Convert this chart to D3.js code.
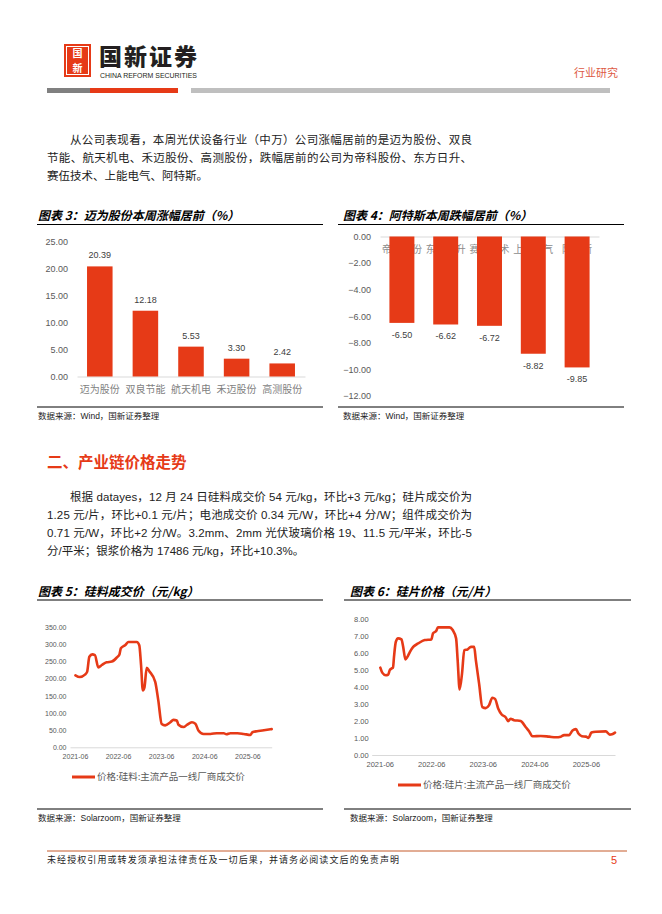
<!DOCTYPE html>
<html>
<head>
<meta charset="utf-8">
<script src="https://cdn.jsdelivr.net/npm/d3@7"></script>
<style>
  body { margin: 0; background: #fff; }
  svg { display: block; }
  text { font-family: "Liberation Sans", "Noto Sans CJK SC", sans-serif; }
</style>
</head>
<body>
<div id="page"></div>
<script>
// chart 3: top gainers
var gainCats = ["迈为股份", "双良节能", "航天机电", "禾迈股份", "高测股份"];
var gainVals = [20.39, 12.18, 5.53, 3.30, 2.42];
var gainTicks = [0, 5, 10, 15, 20, 25];

// chart 4: top losers
var loseCats = ["帝科股份", "东方日升", "赛伍技术", "上能电气", "阿特斯"];
var loseVals = [-6.50, -6.62, -6.72, -8.82, -9.85];
var loseTicks = [0, -2, -4, -6, -8, -10, -12];

// chart 5: polysilicon price (yuan/kg)
var siliconDates = ["2021-06-05","2021-07-12","2021-08-25","2021-09-12","2021-10-01","2021-10-26","2021-11-17","2021-12-16",
  "2022-01-15","2022-02-24","2022-04-09","2022-05-22","2022-06-13","2022-06-25","2022-07-31","2022-08-29","2022-11-06",
  "2022-11-28","2022-12-13","2022-12-28","2023-01-11","2023-01-30","2023-02-21","2023-04-12","2023-05-08","2023-06-06",
  "2023-07-05","2023-08-18","2023-09-13","2023-10-12","2023-10-26","2023-12-09","2024-01-04","2024-02-17","2024-03-17",
  "2024-04-12","2024-05-26","2024-07-23","2024-09-16","2024-11-13","2024-12-05","2025-01-08","2025-03-08","2025-05-01",
  "2025-06-28","2025-07-13","2025-08-22","2025-10-05","2025-12-24"];
var siliconPrices = [210, 205, 212, 220, 264, 271, 269, 233,
  240, 248, 250, 262, 271, 289, 298, 307, 307,
  298, 240, 166, 175, 232, 222, 191, 137, 68,
  64, 73, 80, 78, 66, 59, 65, 73, 69,
  49, 39, 39, 41, 41, 38, 41, 41, 39,
  36, 44, 47, 49, 53];
var siliconTicks = [0, 50, 100, 150, 200, 250, 300, 350];

// chart 6: wafer price (yuan/piece)
var waferDates = ["2021-06-05","2021-06-20","2021-07-13","2021-07-30","2021-08-11","2021-08-22","2021-09-03","2021-09-10",
  "2021-09-23","2021-10-09","2021-11-02","2021-11-14","2021-11-30","2021-12-14","2022-01-01","2022-01-24","2022-02-28",
  "2022-04-16","2022-06-02","2022-06-13","2022-07-07","2022-07-18","2022-10-08","2022-10-31","2022-11-24","2022-12-05",
  "2022-12-19","2023-01-05","2023-01-21","2023-02-13","2023-03-09","2023-04-01","2023-04-13","2023-05-06","2023-05-29",
  "2023-06-22","2023-07-15","2023-08-08","2023-08-27","2023-09-19","2023-10-13","2023-11-10","2023-11-28","2023-12-15",
  "2024-01-08","2024-02-25","2024-04-01","2024-04-24","2024-05-18","2024-07-16","2024-09-13","2024-10-30","2024-12-05",
  "2024-12-28","2025-02-02","2025-02-26","2025-03-22","2025-04-09","2025-05-03","2025-06-01","2025-06-19","2025-07-10",
  "2025-08-10","2025-10-20","2025-11-17","2025-12-03","2025-12-24"];
var waferPrices = [5.14, 4.83, 4.69, 4.72, 4.99, 5.08, 5.14, 5.77,
  6.66, 6.86, 6.80, 6.36, 5.62, 5.77, 6.07, 6.36, 6.56,
  6.76, 6.80, 7.15, 7.31, 7.51, 7.51, 7.35, 6.86, 5.58,
  3.86, 4.79, 6.17, 6.21, 6.36, 6.36, 5.58, 4.20, 2.82,
  2.76, 2.92, 3.37, 3.30, 2.72, 2.38, 2.22, 1.99, 2.13,
  2.05, 2.00, 1.63, 1.40, 1.10, 1.12, 1.08, 1.04, 1.08,
  1.17, 1.17, 1.44, 1.52, 1.26, 1.10, 1.08, 1.00, 1.32,
  1.37, 1.39, 1.20, 1.22, 1.32];
var waferTicks = [0, 1, 2, 3, 4, 5, 6, 7, 8];

var yearTicks = ["2021-06-01", "2022-06-01", "2023-06-01", "2024-06-01", "2025-06-01"];

var RED = "#e63a17";
var GREY = "#595959";
var CJK = "\"Noto Sans CJK SC\", sans-serif";

var parse = d3.timeParse("%Y-%m-%d");

var svg = d3.select("#page").append("svg")
  .attr("width", 662)
  .attr("height", 914);

svg.append("rect").attr("width", 662).attr("height", 914).attr("fill", "#fff");

// ---------- page header ----------
svg.append("rect").attr("x", 64).attr("y", 44).attr("width", 27).attr("height", 33).attr("fill", RED);
svg.append("rect").attr("x", 66.5).attr("y", 46.5).attr("width", 22).attr("height", 28)
  .attr("fill", "none").attr("stroke", "#fff").attr("stroke-width", 1);
svg.append("text").attr("x", 77.5).attr("y", 57).attr("text-anchor", "middle")
  .style("font-family", CJK).style("font-size", "10px").style("font-weight", "bold").attr("fill", "#fff").text("国");
svg.append("text").attr("x", 77.5).attr("y", 72).attr("text-anchor", "middle")
  .style("font-family", CJK).style("font-size", "10px").style("font-weight", "bold").attr("fill", "#fff").text("新");
svg.append("text").attr("x", 99).attr("y", 65).attr("textLength", 98)
  .style("font-family", CJK).style("font-size", "23px").style("font-weight", "900").attr("fill", "#231f20").text("国新证券");
svg.append("text").attr("x", 100).attr("y", 78).attr("textLength", 97).attr("lengthAdjust", "spacingAndGlyphs")
  .style("font-size", "7px").attr("fill", "#231f20").text("CHINA REFORM SECURITIES");
svg.append("text").attr("x", 618).attr("y", 77).attr("text-anchor", "end")
  .style("font-family", CJK).style("font-size", "11px").attr("fill", "#dd5a45").text("行业研究");

svg.append("rect").attr("x", 47).attr("y", 88).attr("width", 43).attr("height", 5).attr("fill", "#808080");
svg.append("rect").attr("x", 90).attr("y", 88).attr("width", 88).attr("height", 5).attr("fill", RED);
svg.append("rect").attr("x", 191).attr("y", 88).attr("width", 419).attr("height", 5).attr("fill", "#bfbfbf");

// ---------- body text ----------
function textLine(x, y, str, width) {
  var t = svg.append("text")
    .attr("x", x).attr("y", y)
    .style("font-size", "11.5px")
    .attr("fill", "#222")
    .text(str);
  if (width) t.attr("textLength", width).attr("lengthAdjust", "spacing");
  return t;
}

textLine(70, 144, "从公司表现看，本周光伏设备行业（中万）公司涨幅居前的是迈为股份、双良", 402);
textLine(47, 162, "节能、航天机电、禾迈股份、高测股份，跌幅居前的公司为帝科股份、东方日升、", 425);
textLine(47, 180, "赛伍技术、上能电气、阿特斯。");

svg.append("text").attr("x", 47).attr("y", 468)
  .style("font-family", CJK).style("font-size", "15.5px").style("font-weight", "bold")
  .attr("fill", RED).text("二、产业链价格走势");

textLine(70, 501, "根据 datayes，12 月 24 日硅料成交价 54 元/kg，环比+3 元/kg；硅片成交价为", 402);
textLine(47, 519, "1.25 元/片，环比+0.1 元/片；电池成交价 0.34 元/W，环比+4 分/W；组件成交价为", 425);
textLine(47, 537, "0.71 元/W，环比+2 分/W。3.2mm、2mm 光伏玻璃价格 19、11.5 元/平米，环比-5", 425);
textLine(47, 555, "分/平米；银浆价格为 17486 元/kg，环比+10.3%。");

// ---------- chart frame: title + rules + source ----------
function frame(x0, x1, titleX, titleY, ruleY, title, srcY, source) {
  svg.append("text").attr("x", titleX).attr("y", titleY)
    .style("font-family", CJK).style("font-size", "12px").style("font-weight", "bold")
    .style("font-style", "italic").attr("fill", "#000").text(title);
  svg.append("line").attr("x1", x0).attr("x2", x1).attr("y1", ruleY).attr("y2", ruleY)
    .attr("stroke", "#000").attr("stroke-width", 1.2);
  svg.append("line").attr("x1", x0).attr("x2", x1).attr("y1", srcY).attr("y2", srcY)
    .attr("stroke", "#000").attr("stroke-width", 1);
  svg.append("text").attr("x", titleX).attr("y", srcY + 12)
    .style("font-size", "8.5px").attr("fill", "#222").text(source);
}

frame(37, 323, 38, 220, 224.5, "图表 3：迈为股份本周涨幅居前（%）", 407, "数据来源：Wind，国新证券整理");
frame(338, 624, 343, 220, 224.5, "图表 4：阿特斯本周跌幅居前（%）", 407, "数据来源：Wind，国新证券整理");
frame(37, 323, 38, 596, 600, "图表 5：硅料成交价（元/kg）", 809, "数据来源：Solarzoom，国新证券整理");
frame(344, 631, 350, 596, 600, "图表 6：硅片价格（元/片）", 809, "数据来源：Solarzoom，国新证券整理");

function styleAxis(g, size, color) {
  g.selectAll("text").style("font-size", size).attr("fill", color);
  g.selectAll(".tick line").remove();
}

// ---------- chart 3 ----------
var x3 = d3.scaleBand().domain(gainCats).range([77, 305]).paddingInner(0.44).paddingOuter(0.22);
var y3 = d3.scaleLinear().domain([0, 25]).range([376.5, 241.5]);

var g3y = svg.append("g").attr("transform", "translate(77,0)")
  .call(d3.axisLeft(y3).tickValues(gainTicks).tickSize(0).tickPadding(9).tickFormat(d3.format(".2f")));
g3y.select(".domain").remove();
styleAxis(g3y, "9px", GREY);

var g3x = svg.append("g").attr("transform", "translate(0," + y3(0) + ")")
  .call(d3.axisBottom(x3).tickSize(0).tickPadding(9).tickSizeOuter(0));
g3x.select(".domain").attr("stroke", "#d9d9d9");
styleAxis(g3x, "10px", "#7f7f7f");
g3x.selectAll("text").style("font-family", CJK);

svg.selectAll(".bar3").data(gainVals).enter().append("rect")
  .attr("class", "bar3")
  .attr("x", function(d, i) { return x3(gainCats[i]); })
  .attr("y", function(d) { return y3(d); })
  .attr("width", x3.bandwidth())
  .attr("height", function(d) { return y3(0) - y3(d); })
  .attr("fill", RED);

svg.selectAll(".lab3").data(gainVals).enter().append("text")
  .attr("class", "lab3")
  .attr("x", function(d, i) { return x3(gainCats[i]) + x3.bandwidth() / 2; })
  .attr("y", function(d) { return y3(d) - 8; })
  .attr("text-anchor", "middle")
  .style("font-size", "9px").attr("fill", "#404040")
  .text(function(d) { return d.toFixed(2); });

// ---------- chart 4 ----------
var x4 = d3.scaleBand().domain(loseCats).range([380, 599]).paddingInner(0.43).paddingOuter(0.215);
var y4 = d3.scaleLinear().domain([-12, 0]).range([396, 236.5]);

var g4y = svg.append("g").attr("transform", "translate(380,0)")
  .call(d3.axisLeft(y4).tickValues(loseTicks).tickSize(0).tickPadding(9).tickFormat(d3.format(".2f")));
g4y.select(".domain").remove();
styleAxis(g4y, "9px", GREY);

// category labels sit under the bars, as in the source chart
var g4x = svg.append("g").attr("transform", "translate(0," + y4(0) + ")")
  .call(d3.axisBottom(x4).tickSize(0).tickPadding(9).tickSizeOuter(0));
g4x.select(".domain").attr("stroke", "#d9d9d9");
styleAxis(g4x, "10px", "#8c8c8c");
g4x.selectAll("text").style("font-family", CJK);

svg.selectAll(".bar4").data(loseVals).enter().append("rect")
  .attr("class", "bar4")
  .attr("x", function(d, i) { return x4(loseCats[i]); })
  .attr("y", y4(0))
  .attr("width", x4.bandwidth())
  .attr("height", function(d) { return y4(d) - y4(0); })
  .attr("fill", RED);

svg.selectAll(".lab4").data(loseVals).enter().append("text")
  .attr("class", "lab4")
  .attr("x", function(d, i) { return x4(loseCats[i]) + x4.bandwidth() / 2; })
  .attr("y", function(d) { return y4(d) + 15; })
  .attr("text-anchor", "middle")
  .style("font-size", "9px").attr("fill", "#404040")
  .text(function(d) { return d.toFixed(2); });

// ---------- line charts ----------
function lineChart(opt) {
  var data = opt.dates.map(function(d, i) { return { date: parse(d), value: opt.values[i] }; });

  var x = d3.scaleTime().domain([parse(opt.start), parse(opt.end)]).range([opt.left, opt.right]);
  var y = d3.scaleLinear().domain([0, opt.max]).range([opt.bottom, opt.top]);

  var gy = svg.append("g").attr("transform", "translate(" + opt.left + ",0)")
    .call(d3.axisLeft(y).tickValues(opt.ticks).tickSize(0).tickPadding(opt.padY).tickFormat(d3.format(".2f")));
  gy.select(".domain").remove();
  styleAxis(gy, opt.font, GREY);

  var gx = svg.append("g").attr("transform", "translate(0," + opt.bottom + ")")
    .call(d3.axisBottom(x).tickValues(yearTicks.map(parse)).tickSize(0).tickSizeOuter(0)
      .tickPadding(opt.padX).tickFormat(d3.timeFormat("%Y-%m")));
  gx.select(".domain").attr("stroke", "#d9d9d9");
  styleAxis(gx, opt.font, GREY);

  var line = d3.line()
    .x(function(d) { return x(d.date); })
    .y(function(d) { return y(d.value); })
    .curve(d3.curveMonotoneX);

  svg.append("path").datum(data)
    .attr("d", line)
    .attr("fill", "none")
    .attr("stroke", RED)
    .attr("stroke-width", 2.6)
    .attr("stroke-linejoin", "round")
    .attr("stroke-linecap", "round");

  // legend
  svg.append("line").attr("x1", opt.legX).attr("x2", opt.legX + 23)
    .attr("y1", opt.legY).attr("y2", opt.legY)
    .attr("stroke", RED).attr("stroke-width", 3);
  svg.append("text").attr("x", opt.legX + 25).attr("y", opt.legY).attr("dy", "0.35em")
    .style("font-family", CJK).style("font-size", "9.5px").attr("fill", GREY).text(opt.legend);
}

lineChart({
  dates: siliconDates, values: siliconPrices, ticks: siliconTicks, max: 350,
  start: "2021-04-20", end: "2025-12-24",
  left: 70, right: 271.7, top: 627.3, bottom: 747.3,
  padY: 3.5, padX: 6.5, font: "7px",
  legX: 72, legY: 777, legend: "价格:硅料:主流产品一线厂商成交价"
});

lineChart({
  dates: waferDates, values: waferPrices, ticks: waferTicks, max: 8,
  start: "2021-04-05", end: "2025-12-24",
  left: 371.7, right: 615, top: 619, bottom: 755,
  padY: 3, padX: 7, font: "7.5px",
  legX: 398, legY: 785, legend: "价格:硅片:主流产品一线厂商成交价"
});

// ---------- footer ----------
svg.append("line").attr("x1", 47).attr("x2", 627).attr("y1", 851).attr("y2", 851)
  .attr("stroke", "#c55a2b").attr("stroke-width", 1);
svg.append("text").attr("x", 47).attr("y", 863).attr("textLength", 352).attr("lengthAdjust", "spacing")
  .style("font-family", CJK).style("font-size", "9px").attr("fill", "#222")
  .text("未经授权引用或转发须承担法律责任及一切后果，并请务必阅读文后的免责声明");
svg.append("text").attr("x", 617).attr("y", 864).attr("text-anchor", "end")
  .style("font-size", "11px").attr("fill", RED).text("5");
</script>
</body>
</html>
